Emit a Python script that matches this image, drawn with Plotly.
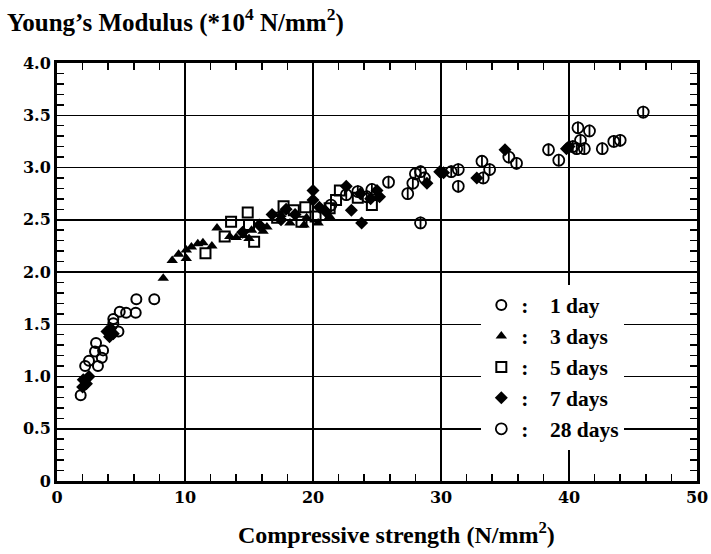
import plotly.graph_objects as go

# ---- data ----
day1_x = [1.85, 2.2, 2.5, 2.97, 3.05, 3.2, 3.5, 3.6, 4.4, 4.4, 4.8, 4.9, 5.4, 6.15, 6.2, 7.6]
day1_y = [0.82, 1.10, 1.15, 1.24, 1.32, 1.10, 1.18, 1.25, 1.51, 1.55, 1.43, 1.62, 1.61, 1.61, 1.74, 1.74]

day3_x = [8.3, 9.0, 9.5, 10.1, 10.1, 10.5, 11.0, 11.4, 12.1, 12.5, 13.5, 14.0, 14.6, 15.0, 15.2,
          16.1, 16.4, 17.5, 18.2, 19.3, 19.5, 20.4, 21.3]
day3_y = [1.94, 2.11, 2.17, 2.13, 2.21, 2.24, 2.27, 2.28, 2.25, 2.42, 2.34, 2.33, 2.35, 2.32, 2.40,
          2.39, 2.43, 2.55, 2.47, 2.45, 2.52, 2.47, 2.53]

day5_x = [11.6, 13.1, 13.6, 14.9, 15.0, 15.4, 17.2, 17.7, 18.5, 19.1, 19.4, 20.2, 21.3, 21.8, 22.1, 23.5, 24.6]
day5_y = [2.18, 2.34, 2.48, 2.57, 2.45, 2.29, 2.52, 2.63, 2.59, 2.48, 2.62, 2.53, 2.61, 2.69, 2.78, 2.71, 2.64]

day7_x = [2.0, 2.05, 2.3, 2.5, 3.9, 4.1, 4.2, 4.4, 14.5, 15.8, 16.8, 17.5, 17.9, 18.6, 20.0, 20.0,
          20.5, 21.0, 22.6, 23.0, 23.7, 23.8, 24.5, 25.0, 25.2, 28.9, 29.9, 30.2, 32.8, 35.0, 39.8, 40.0]
day7_y = [0.90, 0.97, 0.93, 1.00, 1.43, 1.38, 1.46, 1.41, 2.38, 2.45, 2.55, 2.50, 2.60, 2.55, 2.78, 2.69,
          2.62, 2.58, 2.82, 2.59, 2.75, 2.47, 2.70, 2.78, 2.72, 2.85, 2.96, 2.95, 2.90, 3.17, 3.18, 3.20]

day28_x = [21.4, 22.6, 23.5, 24.2, 24.6, 25.9, 27.4, 27.8, 28.0, 28.4, 28.4, 28.7, 30.8, 31.35, 31.35,
           33.2, 33.3, 33.8, 35.3, 35.9, 38.4, 39.2, 40.3, 40.6, 40.7, 40.9, 41.2, 41.6, 42.6, 43.5, 44.0, 45.8]
day28_y = [2.64, 2.74, 2.77, 2.72, 2.79, 2.86, 2.75, 2.85, 2.94, 2.96, 2.47, 2.90, 2.96, 2.98, 2.82,
           3.06, 2.90, 2.98, 3.10, 3.04, 3.17, 3.07, 3.20, 3.18, 3.38, 3.26, 3.18, 3.35, 3.18, 3.25, 3.26, 3.53]

x_ticks = [0, 10, 20, 30, 40, 50]
x_tick_labels = ["0", "10", "20", "30", "40", "50"]
y_ticks = [0, 0.5, 1.0, 1.5, 2.0, 2.5, 3.0, 3.5, 4.0]
y_tick_labels = ["0", "0.5", "1.0", "1.5", "2.0", "2.5", "3.0", "3.5", "4.0"]

series_names = ["1 day", "3 days", "5 days", "7 days", "28 days"]

SERIF = "Liberation Serif"
NB = "\u00a0"


def label(s):
    return "<b>:" + NB * 4 + s + "</b>"


fig = go.Figure()
fig.add_trace(go.Scatter(x=day1_x, y=day1_y, mode="markers", name=label(series_names[0]), legendgroup="g1",
                         marker=dict(symbol="circle-open", size=10, color="black", line=dict(width=2, color="black"))))
fig.add_trace(go.Scatter(x=day3_x, y=day3_y, mode="markers", name=label(series_names[1]), legendgroup="g3",
                         marker=dict(symbol="triangle-up", size=10, color="black", line=dict(width=0))))
fig.add_trace(go.Scatter(x=day5_x, y=day5_y, mode="markers", name=label(series_names[2]), legendgroup="g5",
                         marker=dict(symbol="square-open", size=10, color="black", line=dict(width=2, color="black"))))
fig.add_trace(go.Scatter(x=day7_x, y=day7_y, mode="markers", name=label(series_names[3]), legendgroup="g7",
                         marker=dict(symbol="diamond", size=10, color="black", line=dict(width=0))))
fig.add_trace(go.Scatter(x=day28_x, y=day28_y, mode="markers", name=label(series_names[4]), legendgroup="g28",
                         marker=dict(symbol="circle-open", size=11, color="black", line=dict(width=1.8, color="black"))))
fig.add_trace(go.Scatter(x=day28_x, y=day28_y, mode="markers", showlegend=False, legendgroup="g28",
                         marker=dict(symbol="line-ns", size=9, color="black", line=dict(width=1.8, color="black"))))

axis_common = dict(
    showgrid=True, gridcolor="black", gridwidth=1.5,
    showline=True, linecolor="black", linewidth=3, mirror="allticks",
    ticks="inside", ticklen=8, tickwidth=1.5, tickcolor="black",
    zeroline=False,
    tickfont=dict(family="DejaVu Serif", size=16, color="black", weight="bold"),
)

fig.update_xaxes(range=[0, 50], tickmode="array", tickvals=x_ticks, ticktext=x_tick_labels,
                 minor=dict(dtick=2, tick0=0, ticks="inside", ticklen=7, tickwidth=1.5, tickcolor="black", showgrid=False),
                 **axis_common)
fig.update_yaxes(range=[0, 4], tickmode="array", tickvals=y_ticks, ticktext=y_tick_labels,
                 minor=dict(dtick=0.1, tick0=0, ticks="inside", ticklen=7, tickwidth=1.5, tickcolor="black", showgrid=False),
                 **axis_common)

fig.update_layout(
    width=711, height=554,
    margin=dict(l=57, r=14, t=63, b=73, autoexpand=False),
    paper_bgcolor="white", plot_bgcolor="white",
    showlegend=True,
    hovermode=False,
    legend=dict(x=0.663, y=0.47, xanchor="left", yanchor="top",
                bgcolor="white", borderwidth=0, tracegroupgap=0, traceorder="grouped",
                font=dict(family=SERIF, size=21.5, color="black")),
    title=dict(text="<b>Young\u2019s Modulus (*10<sup>4</sup> N/mm<sup>2</sup>)</b>",
               x=7 / 711, xref="container", xanchor="left",
               y=1 - 22 / 554, yref="container", yanchor="middle",
               font=dict(family=SERIF, size=25, color="black")),
    annotations=[dict(text="<b>Compressive strength (N/mm<sup>2</sup>)</b>",
                      x=0.531, y=-0.125, xref="paper", yref="paper",
                      xanchor="center", yanchor="middle", showarrow=False,
                      font=dict(family=SERIF, size=24, color="black"))],
)

fig.write_html("out.html", config={"displayModeBar": False, "staticPlot": True},
               post_script="document.body.style.margin='0';")
